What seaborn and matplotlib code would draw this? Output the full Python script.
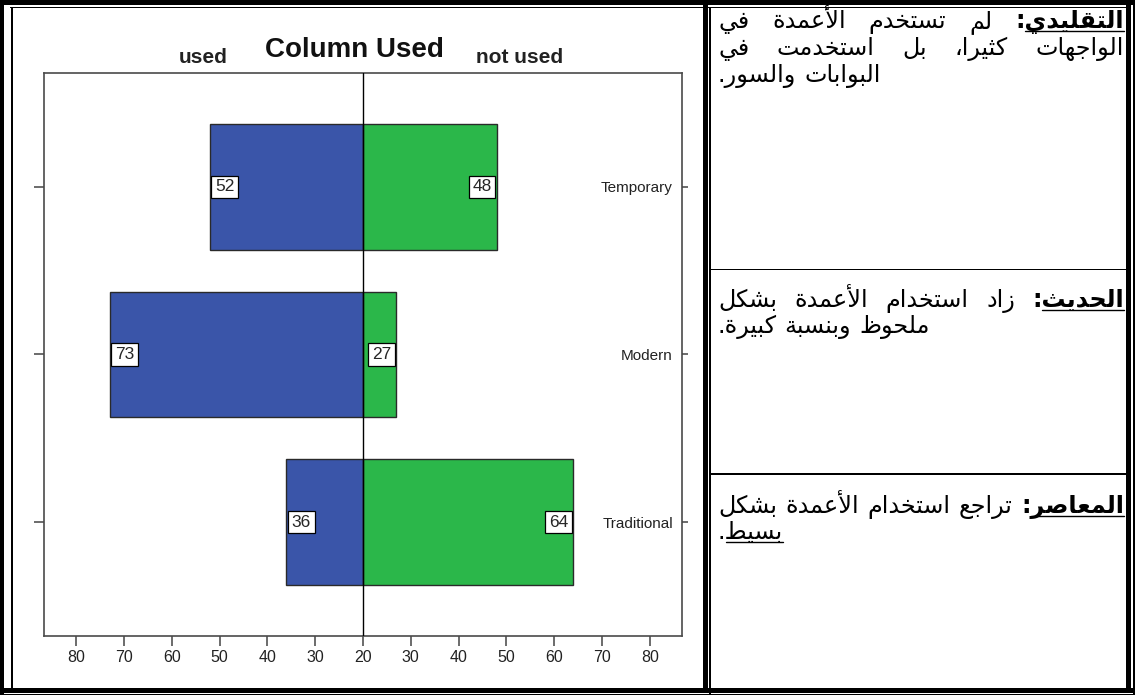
import numpy as np
import pandas as pd
import matplotlib
matplotlib.use('Agg')
import matplotlib.pyplot as plt
from matplotlib import font_manager
from matplotlib.patches import Rectangle
from matplotlib.lines import Line2D
import seaborn as sns

# ---------------- data ----------------
categories = ['Temporary', 'Modern', 'Traditional']
used = [52, 73, 36]
not_used = [48, 27, 64]
axis_origin = 20          # value printed at the centre of the mirrored axis
tick_values = [80, 70, 60, 50, 40, 30, 20, 30, 40, 50, 60, 70, 80]
tick_sides = [-1, -1, -1, -1, -1, -1, 0, 1, 1, 1, 1, 1, 1]
side_names = ['used', 'not used']
chart_title = 'Column Used'

note_lines = [
    ['التقليدي: لم تستخدم الأعمدة في', 'الواجهات كثيرا، بل استخدمت في', 'البوابات والسور.'],
    ['الحديث: زاد استخدام الأعمدة بشكل', 'ملحوظ وبنسبة كبيرة.'],
    ['المعاصر: تراجع استخدام الأعمدة بشكل', 'بسيط.'],
]
underlined_words = ['التقليدي', 'الحديث', 'المعاصر', 'بسيط']

# ---------------- style ----------------
BLUE = '#3a55a9'
GREEN = '#2bb74a'
W, H = 1135, 695

sns.set_style('white')
avail = {f.name for f in font_manager.fontManager.ttflist}
def pick(*names):
    for n in names:
        if n in avail:
            return n
    return 'DejaVu Sans'
SANS = pick('Liberation Sans', 'Arimo', 'DejaVu Sans')
NARROW = pick('Liberation Sans Narrow', 'Liberation Sans', 'DejaVu Sans')
AR = 'DejaVu Sans'
plt.rcParams['font.family'] = [SANS, 'DejaVu Sans']

fig = plt.figure(figsize=(W / 100, H / 100), dpi=100)
fig.patch.set_facecolor('white')

def fx(x):
    return x / W
def fy(y):
    return 1 - y / H

# ---------------- chart ----------------
L, R, T, B = 44, 682, 73, 636
ax = fig.add_axes([fx(L), fy(B), (R - L) / W, (B - T) / H])

df = pd.DataFrame({
    'category': categories * 2,
    'side': [side_names[0]] * len(categories) + [side_names[1]] * len(categories),
    'value': used + not_used,
})
df['position'] = np.where(df['side'] == side_names[0],
                          -(df['value'] - axis_origin), df['value'] - axis_origin)

sns.barplot(data=df, x='position', y='category', hue='side', order=categories,
            hue_order=side_names, palette={side_names[0]: BLUE, side_names[1]: GREEN},
            dodge=False, width=0.75, edgecolor='#2a2a2a', linewidth=1.0, saturation=1,
            orient='h', errorbar=None, legend=False, ax=ax)

ax.set_xlim(-66.7, 66.7)
ax.set_ylim(2.68, -0.68)
ax.axvline(0, color='black', lw=1.0, zorder=5)
ax.set_xlabel('')
ax.set_ylabel('')

tick_pos = [s * (v - axis_origin) for s, v in zip(tick_sides, tick_values)]
ax.set_xticks(tick_pos)
ax.set_xticklabels([str(v) for v in tick_values], family=NARROW, fontsize=11.5, color='#222')
ax.tick_params(axis='x', bottom=True, direction='out', length=7, width=1.1, color='#444', pad=3)
ax.set_yticks(range(len(categories)))
ax.set_yticklabels([])
ax.tick_params(axis='y', left=True, direction='out', length=7.2, width=1.1, color='#444')
for sp in ax.spines.values():
    sp.set_visible(True)
    sp.set_color('#4a4a4a')
    sp.set_linewidth(1.2)

ax2 = ax.twinx()
ax2.set_ylim(ax.get_ylim())
ax2.set_yticks(range(len(categories)))
ax2.set_yticklabels(categories, fontsize=11, color='#222')
ax2.tick_params(axis='y', right=True, direction='out', length=4, width=1.1, color='#444', pad=-(4 + 6.5))
for lbl in ax2.get_yticklabels():
    lbl.set_horizontalalignment('right')
for sp in ax2.spines.values():
    sp.set_visible(False)

box = dict(boxstyle='square,pad=0.22', fc='white', ec='black', lw=0.9)
for i, (u, n) in enumerate(zip(used, not_used)):
    ax.annotate(str(u), xy=(-(u - axis_origin), i), xytext=(3.8, 0), textcoords='offset points',
                ha='left', va='center', fontsize=12.5, bbox=box, zorder=6)
    ax.annotate(str(n), xy=(n - axis_origin, i), xytext=(-3.8, 0), textcoords='offset points',
                ha='right', va='center', fontsize=12.5, bbox=box, zorder=6)

fig.text(fx(203), fy(63), side_names[0], ha='center', va='baseline', fontsize=15, fontweight='bold', color='#222')
fig.text(fx(354), fy(57), chart_title, ha='center', va='baseline', fontsize=20, fontweight='bold', color='#111')
fig.text(fx(520), fy(63), side_names[1], ha='center', va='baseline', fontsize=15, fontweight='bold', color='#222')

# ---------------- borders ----------------
def band(x0, y0, x1, y1):
    fig.add_artist(Rectangle((fx(x0), fy(y1)), (x1 - x0) / W, (y1 - y0) / H,
                             transform=fig.transFigure, fc='black', ec='none', lw=0))

band(0, 0, W, 5)            # top thick
band(10, 6.5, 1126, 8)      # top thin
band(0, 0, 4, H)            # left thick
band(10.5, 6.5, 12.5, 688)  # left thin
band(0, 688, W, 693)        # bottom thick
band(0, 694, W, 695.5)      # bottom thin
band(703, 0, 707.5, 693)    # separator thick
band(709, 6.5, 710.5, 695)  # separator thin
band(1126, 0, 1131, 693)    # right thick
band(1133, 0, 1134.5, 695)  # right thin
band(710, 268.5, 1126, 270)
band(710, 473, 1126, 474.5)

# ---------------- Arabic notes ----------------
FORMS = {
    'ا': (0xFE8D, 0xFE8E, None, None), 'أ': (0xFE83, 0xFE84, None, None),
    'إ': (0xFE87, 0xFE88, None, None), 'آ': (0xFE81, 0xFE82, None, None),
    'ب': (0xFE8F, 0xFE90, 0xFE91, 0xFE92), 'ة': (0xFE93, 0xFE94, None, None),
    'ت': (0xFE95, 0xFE96, 0xFE97, 0xFE98), 'ث': (0xFE99, 0xFE9A, 0xFE9B, 0xFE9C),
    'ج': (0xFE9D, 0xFE9E, 0xFE9F, 0xFEA0), 'ح': (0xFEA1, 0xFEA2, 0xFEA3, 0xFEA4),
    'خ': (0xFEA5, 0xFEA6, 0xFEA7, 0xFEA8), 'د': (0xFEA9, 0xFEAA, None, None),
    'ذ': (0xFEAB, 0xFEAC, None, None), 'ر': (0xFEAD, 0xFEAE, None, None),
    'ز': (0xFEAF, 0xFEB0, None, None), 'س': (0xFEB1, 0xFEB2, 0xFEB3, 0xFEB4),
    'ش': (0xFEB5, 0xFEB6, 0xFEB7, 0xFEB8), 'ص': (0xFEB9, 0xFEBA, 0xFEBB, 0xFEBC),
    'ض': (0xFEBD, 0xFEBE, 0xFEBF, 0xFEC0), 'ط': (0xFEC1, 0xFEC2, 0xFEC3, 0xFEC4),
    'ظ': (0xFEC5, 0xFEC6, 0xFEC7, 0xFEC8), 'ع': (0xFEC9, 0xFECA, 0xFECB, 0xFECC),
    'غ': (0xFECD, 0xFECE, 0xFECF, 0xFED0), 'ف': (0xFED1, 0xFED2, 0xFED3, 0xFED4),
    'ق': (0xFED5, 0xFED6, 0xFED7, 0xFED8), 'ك': (0xFED9, 0xFEDA, 0xFEDB, 0xFEDC),
    'ل': (0xFEDD, 0xFEDE, 0xFEDF, 0xFEE0), 'م': (0xFEE1, 0xFEE2, 0xFEE3, 0xFEE4),
    'ن': (0xFEE5, 0xFEE6, 0xFEE7, 0xFEE8), 'ه': (0xFEE9, 0xFEEA, 0xFEEB, 0xFEEC),
    'و': (0xFEED, 0xFEEE, None, None), 'ى': (0xFEEF, 0xFEF0, None, None),
    'ي': (0xFEF1, 0xFEF2, 0xFEF3, 0xFEF4),
}
LAM_ALEF = {'ا': (0xFEFB, 0xFEFC), 'أ': (0xFEF7, 0xFEF8), 'إ': (0xFEF9, 0xFEFA), 'آ': (0xFEF5, 0xFEF6)}

def shape(word):
    out, i, n, prev = [], 0, len(word), False
    while i < n:
        c = word[i]
        if c == 'ل' and i + 1 < n and word[i + 1] in LAM_ALEF:
            iso, fin = LAM_ALEF[word[i + 1]]
            out.append(chr(fin if prev else iso))
            prev = False
            i += 2
            continue
        if c in FORMS:
            iso, fin, ini, med = FORMS[c]
            nxt = word[i + 1] if i + 1 < n else ''
            can_next = ini is not None and nxt in FORMS
            if prev and can_next:
                f = med
            elif prev:
                f = fin
            elif can_next:
                f = ini
            else:
                f = iso
            out.append(chr(f))
            prev = can_next
        else:
            out.append(c)
            prev = False
        i += 1
    return ''.join(reversed(out))

renderer = fig.canvas.get_renderer()
X_LEFT, X_RIGHT = 718, 1124
baselines = [[28, 55, 82], [307, 333], [513, 539]]
AR_FS = 20.0

def width_of(s, bold):
    t = fig.text(0, 0, s, fontsize=AR_FS, family=AR, fontweight='bold' if bold else 'normal')
    w = t.get_window_extent(renderer).width
    t.remove()
    return w

space_w = width_of('ﺍ ﺍ', False) - width_of('ﺍﺍ', False)
# shrink font if the longest line does not fit with normal spacing
for _ in range(8):
    worst = 0
    for p, lines in enumerate(note_lines):
        for li, line in enumerate(lines):
            ws = line.split(' ')
            tot = sum(width_of(shape(w), li == 0 and k == 0) for k, w in enumerate(ws))
            worst = max(worst, tot + space_w * (len(ws) - 1))
    if worst <= X_RIGHT - X_LEFT:
        break
    AR_FS *= (X_RIGHT - X_LEFT) / worst * 0.995
    space_w = width_of('ﺍ ﺍ', False) - width_of('ﺍﺍ', False)

for p, lines in enumerate(note_lines):
    for li, line in enumerate(lines):
        words = line.split(' ')
        bolds = [li == 0 and k == 0 for k in range(len(words))]
        shaped = [shape(w) for w in words]
        widths = [width_of(s, b) for s, b in zip(shaped, bolds)]
        last = li == len(lines) - 1
        if not last and len(words) > 1:
            gap = (X_RIGHT - X_LEFT - sum(widths)) / (len(words) - 1)
            xr = X_RIGHT
        else:
            gap = space_w
            xr = X_LEFT + sum(widths) + gap * (len(words) - 1)
        yb = baselines[p][li]
        for w, s, b, wd in zip(words, shaped, bolds, widths):
            fig.text(fx(xr), fy(yb), s, ha='right', va='baseline', fontsize=AR_FS, family=AR,
                     fontweight='bold' if b else 'normal', color='black')
            core = w.rstrip(':.،')
            if core in underlined_words:
                cw = width_of(shape(core), b)
                fig.add_artist(Line2D([fx(xr - cw), fx(xr)], [fy(yb + 3), fy(yb + 3)],
                                      transform=fig.transFigure, color='black', lw=1.0))
            xr -= wd + gap

fig.savefig('out.png', dpi=100, facecolor='white')
